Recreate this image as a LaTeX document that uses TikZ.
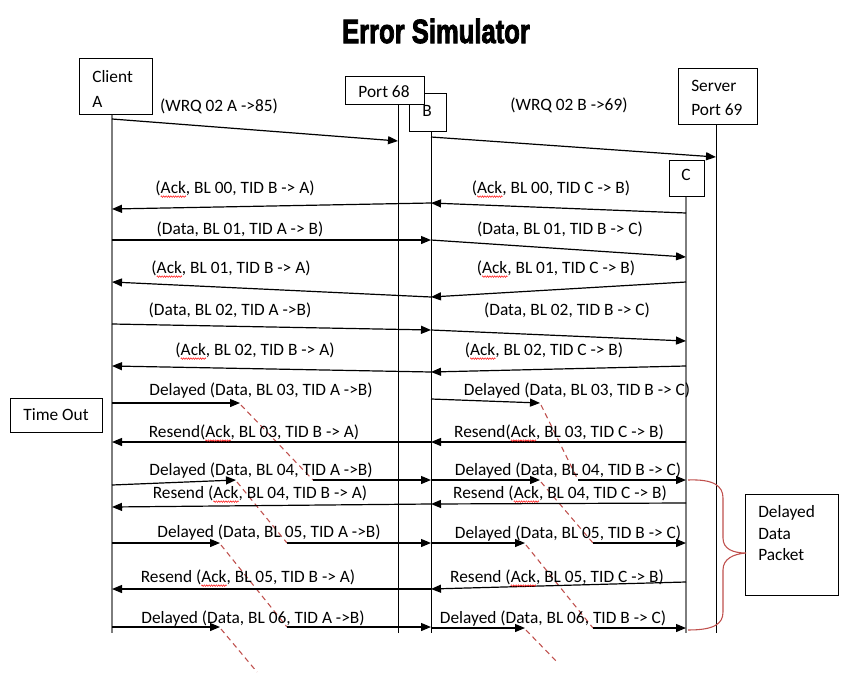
\documentclass[tikz,border=0pt]{standalone}
\usepackage{fontspec}
\setmainfont{Carlito}
\newfontfamily\titlefont{Liberation Sans}[BoldFeatures={FakeBold=3}]
\usetikzlibrary{arrows.meta,calc,fit,decorations.pathmorphing}

\definecolor{delayred}{RGB}{192,80,77}
\definecolor{lifegray}{RGB}{125,125,125}

% red wavy spell-check underline
\newlength\spellwd
\newcommand\spellmark[1]{\settowidth\spellwd{#1}%
  \rlap{\tikz[overlay,baseline=0pt]\draw[red,line width=0.35pt,
     decorate,decoration={zigzag,amplitude=0.6pt,segment length=1.8pt}]
     (0pt,-2.6pt) -- (\spellwd,-2.6pt);}#1}

% one message arrow between two lifelines at given heights
\newcommand\sendmsg[5][msg]{\draw[#1] ($(#2)+(0,#3)$) -- ($(#4)+(0,#5)$);}

\begin{document}
\begin{tikzpicture}[x=0.75pt,y=-0.75pt,
  font=\fontsize{13}{15}\selectfont,
  box/.style={draw,line width=0.75pt,inner sep=0pt},
  lbl/.style={inner sep=0pt},
  msg/.style={line width=0.9pt,-{Triangle[length=7.5pt,width=6pt]}},
  life/.style={line width=0.65pt},
  lifeg/.style={line width=1.4pt,draw=lifegray},
  delay/.style={draw=delayred,line width=0.8pt,dash pattern=on 4pt off 3pt},
  brace/.style={draw=delayred,line width=0.8pt}]

\fill[white] (0,0) rectangle (847,675);
\useasboundingbox (0,0) rectangle (847,675);

% title
\node[lbl] (title) at (436,31) {\scalebox{0.8}[1.05]{\fontsize{24}{26}\titlefont\bfseries Error Simulator}};

% participant boxes
\node[box,fit={(79,58) (152,114)}] (client) {};
\node[lbl,anchor=west] (clientA) at (92,77) {Client};
\node[lbl,anchor=west] (clientB) at (92,102) {A};

\node[box,fill=white,fit={(409,93) (446,131)}] (portB) {};
\node[lbl] (portBt) at (427,111) {B};
\node[box,fill=white,fit={(345,76) (424,104)}] (port) {};
\node[lbl] (portt) at (384,92) {Port 68};

\node[box,fit={(678,68) (757,124)}] (server) {};
\node[lbl,anchor=west] (serverA) at (691,86) {Server};
\node[lbl,anchor=west] (serverB) at (691,110) {Port 69};

\node[box,fit={(669,160) (704,196)}] (portC) {};
\node[lbl] (portCt) at (686,175) {C};

\node[box,fit={(10,398) (102,432)}] (timeout) {};
\node[lbl] (timeoutt) at (56,415) {Time Out};

\node[box,fit={(745,494) (838,595)}] (packet) {};
\node[lbl,anchor=west] (packetA) at (758,513) {Delayed};
\node[lbl,anchor=west] (packetB) at (758,534) {Data};
\node[lbl,anchor=west] (packetC) at (758,555) {Packet};

% lifeline positions
\coordinate (A) at (112,0);
\coordinate (P) at (398,0);
\coordinate (B) at (431,0);
\coordinate (C) at (686,0);
\coordinate (S) at (716,0);

\draw[lifeg] (A |- client.south) -- ($(A)+(0,633)$);
\draw[life] (P |- port.south) -- ($(P)+(0,633)$);
\draw[life] (B |- portB.south) -- ($(B)+(0,633)$);
\draw[life] (S |- server.south) -- ($(S)+(0,633)$);
\draw[lifeg] (C |- portC.south) -- ($(C)+(0,633)$);

% write requests
\sendmsg{A}{119}{P}{141}
\node[lbl] (m1) at (219,106) {(WRQ 02 A ->85)};
\sendmsg{B}{137}{S}{157}
\node[lbl] (m2) at (569,105) {(WRQ 02 B ->69)};

% block 00
\sendmsg{B}{203}{A}{209}
\node[lbl] (m3) at (235,188) {(\spellmark{Ack}, BL 00, TID B -> A)};
\sendmsg{C}{213}{B}{203}
\node[lbl] (m4) at (551,188) {(\spellmark{Ack}, BL 00, TID C -> B)};

% block 01
\sendmsg{A}{240}{B}{240}
\node[lbl] (m5) at (240,229) {(Data, BL 01, TID A -> B)};
\sendmsg{B}{240}{C}{257}
\node[lbl] (m6) at (560,229) {(Data, BL 01, TID B -> C)};
\sendmsg{B}{297}{A}{282}
\node[lbl] (m7) at (231,268) {(\spellmark{Ack}, BL 01, TID B -> A)};
\sendmsg{C}{282}{B}{297}
\node[lbl] (m8) at (556,268) {(\spellmark{Ack}, BL 01, TID C -> B)};

% block 02
\sendmsg{A}{324}{B}{330}
\node[lbl] (m9) at (230,310) {(Data, BL 02, TID A ->B)};
\sendmsg{B}{330}{C}{341}
\node[lbl] (m10) at (567,310) {(Data, BL 02, TID B -> C)};
\sendmsg{B}{372}{A}{366}
\node[lbl] (m11) at (255,350) {(\spellmark{Ack}, BL 02, TID B -> A)};
\sendmsg{C}{366}{B}{372}
\node[lbl] (m12) at (544,350) {(\spellmark{Ack}, BL 02, TID C -> B)};

% delay points of the held-back data packets
\coordinate (d1a) at (240,403); \coordinate (d1b) at (313,480);
\coordinate (d2a) at (236,480); \coordinate (d2b) at (287,543);
\coordinate (d3a) at (220,543); \coordinate (d3b) at (287,627);
\coordinate (d4a) at (220,627); \coordinate (d4b) at (257,672);
\coordinate (e1a) at (540,403); \coordinate (e1b) at (578,480);
\coordinate (e2a) at (540,480); \coordinate (e2b) at (593,543);
\coordinate (e3a) at (525,543); \coordinate (e3b) at (593,628);
\coordinate (e4a) at (525,628); \coordinate (e4b) at (557,662);

\foreach \p in {d1,d2,d3,d4,e1,e2,e3,e4}
  \draw[delay] ($(\p a)+(1,2)$) -- (\p b);

% block 03
\draw[msg] ($(A)+(0,403)$) -- (d1a);
\node[lbl] (m13) at (261,391) {Delayed (Data, BL 03, TID A ->B)};
\draw[msg] ($(B)+(0,399)$) -- (e1a);
\node[lbl] (m14) at (577,391) {Delayed (Data, BL 03, TID B -> C)};
\sendmsg{B}{442}{A}{442}
\node[lbl] (m15) at (254,432) {Resend(\spellmark{Ack}, BL 03, TID B -> A)};
\sendmsg{C}{442}{B}{442}
\node[lbl] (m16) at (559,432) {Resend(\spellmark{Ack}, BL 03, TID C -> B)};

% block 04
\draw[msg] ($(A)+(0,485)$) -- (d2a);
\draw[msg] (d1b) -- ($(B)+(0,480)$);
\node[lbl] (m17) at (261,471) {Delayed (Data, BL 04, TID A ->B)};
\draw[msg] ($(B)+(0,480)$) -- (e2a);
\draw[msg] (e1b) -- ($(C)+(0,480)$);
\node[lbl] (m18) at (568,471) {Delayed (Data, BL 04, TID B -> C)};
\sendmsg{B}{504}{A}{507}
\node[lbl] (m19) at (260,493) {Resend (\spellmark{Ack}, BL 04, TID B -> A)};
\sendmsg{C}{503}{B}{504}
\node[lbl] (m20) at (560,493) {Resend (\spellmark{Ack}, BL 04, TID C -> B)};

% block 05
\draw[msg] ($(A)+(0,543)$) -- (d3a);
\draw[msg] (d2b) -- ($(B)+(0,543)$);
\node[lbl] (m21) at (269,533) {Delayed (Data, BL 05, TID A ->B)};
\draw[msg] ($(B)+(0,543)$) -- (e3a);
\draw[msg] (e2b) -- ($(C)+(0,543)$);
\node[lbl] (m22) at (568,534) {Delayed (Data, BL 05, TID B -> C)};
\sendmsg{B}{589}{A}{589}
\node[lbl] (m23) at (248,577) {Resend (\spellmark{Ack}, BL 05, TID B -> A)};
\sendmsg{C}{582}{B}{589}
\node[lbl] (m24) at (557,577) {Resend (\spellmark{Ack}, BL 05, TID C -> B)};

% block 06
\draw[msg] ($(A)+(0,627)$) -- (d4a);
\draw[msg] (d3b) -- ($(B)+(0,627)$);
\node[lbl] (m25) at (253,619) {Delayed (Data, BL 06, TID A ->B)};
\draw[msg] ($(B)+(0,628)$) -- (e4a);
\draw[msg] (e3b) -- ($(C)+(0,628)$);
\node[lbl] (m26) at (553,619) {Delayed (Data, BL 06, TID B -> C)};

% brace grouping the delayed packets
\coordinate (bt) at (746,553);
\draw[brace] ($(C)+(2,480)$) .. controls (714,479) and (723,486) .. (723,498)
  -- (723,538) .. controls (723,549) and (733,553) .. (bt)
  .. controls (733,554) and (723,559) .. (723,570)
  -- (723,612) .. controls (723,624) and (714,630) .. ($(C)+(2,630)$);
\end{tikzpicture}
\end{document}
